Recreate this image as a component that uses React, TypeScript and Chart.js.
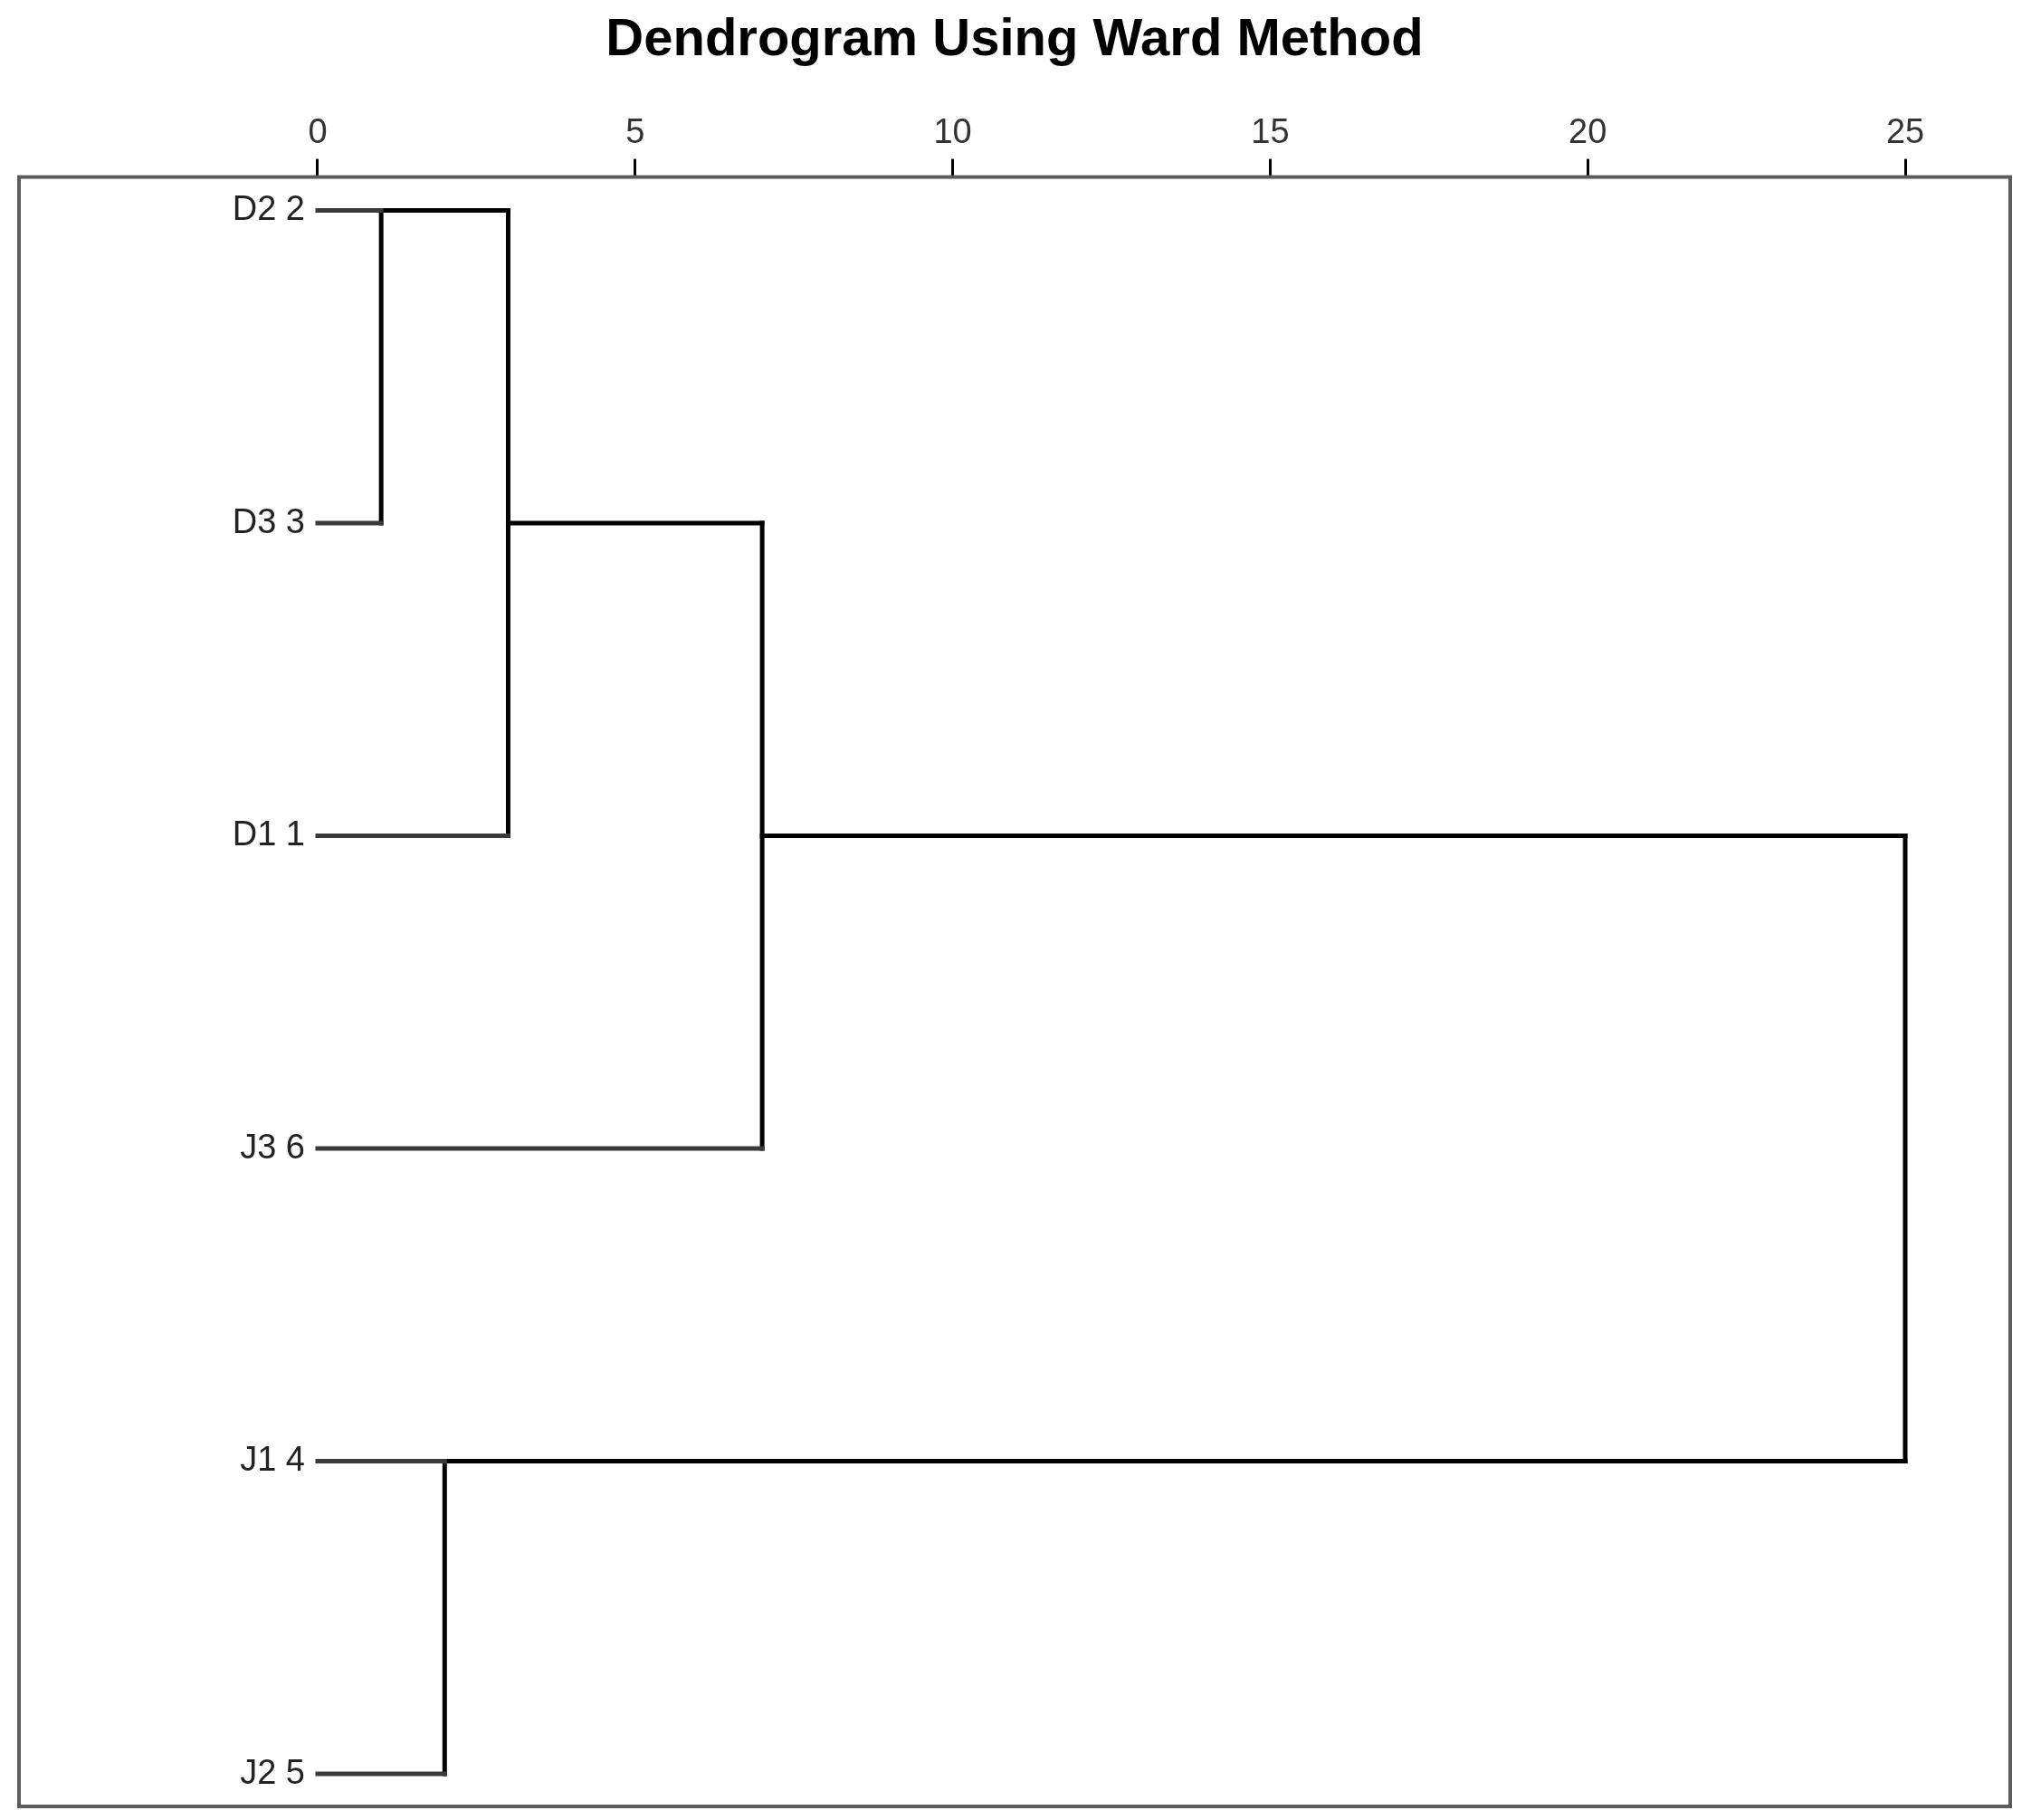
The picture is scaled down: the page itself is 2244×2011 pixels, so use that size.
import React, { useEffect, useRef } from "react";
import { Chart, registerables } from "chart.js";

Chart.register(...registerables);

// ---- data ----
const titleText = "Dendrogram Using Ward Method";
const leafLabels = ["D2 2", "D3 3", "D1 1", "J3 6", "J1 4", "J2 5"];
const xTickValues = [0, 5, 10, 15, 20, 25];
// agglomeration schedule (L# = leaf row, C# = cluster created at step #)
const mergeLeft = ["L0", "L4", "C0", "C2", "C3"];
const mergeRight = ["L1", "L5", "L2", "L3", "C1"];
const mergeHeight = [1.0, 2.0, 3.0, 7.0, 25.0];

const NARROW = "'Liberation Sans Narrow', 'Arial Narrow', 'Liberation Sans', Arial, sans-serif";
const WIDE = "'Liberation Sans', Arial, sans-serif";

type Seg = { pts: { x: number; y: number }[]; leaf: boolean };

function buildSegments(): Seg[] {
  const clusters: { row: number; h: number }[] = [];
  const node = (id: string) => {
    const k = parseInt(id.slice(1), 10);
    if (id[0] === "L") return { row: k, h: 0, leaf: true };
    return { row: clusters[k].row, h: clusters[k].h, leaf: false };
  };
  const segs: Seg[] = [];
  for (let i = 0; i < mergeHeight.length; i++) {
    const a = node(mergeLeft[i]);
    const b = node(mergeRight[i]);
    const h = mergeHeight[i];
    segs.push({ pts: [{ x: a.h, y: a.row }, { x: h, y: a.row }], leaf: a.leaf });
    segs.push({ pts: [{ x: b.h, y: b.row }, { x: h, y: b.row }], leaf: b.leaf });
    segs.push({ pts: [{ x: h, y: a.row }, { x: h, y: b.row }], leaf: false });
    clusters.push({ row: Math.floor((a.row + b.row) / 2), h });
  }
  return segs;
}

const framePlugin = {
  id: "frameAndLabels",
  afterDatasetsDraw(chart: any) {
    const { ctx, chartArea, scales } = chart;
    ctx.save();
    ctx.strokeStyle = "#5c5c5c";
    ctx.lineWidth = 4;
    ctx.strokeRect(chartArea.left, chartArea.top, chartArea.right - chartArea.left, chartArea.bottom - chartArea.top);
    ctx.fillStyle = "#222";
    ctx.font = `38px ${NARROW}`;
    ctx.textAlign = "right";
    ctx.textBaseline = "middle";
    const x0 = scales.x.getPixelForValue(0);
    leafLabels.forEach((lab, i) => {
      ctx.fillText(lab, x0 - 14, scales.y.getPixelForValue(i));
    });
    ctx.restore();
  },
};

export default function App() {
  const ref = useRef<HTMLCanvasElement | null>(null);

  useEffect(() => {
    if (!ref.current) return;
    const segs = buildSegments();
    const chart = new Chart(ref.current, {
      type: "scatter",
      data: {
        datasets: segs.map((s) => ({
          data: s.pts,
          showLine: true,
          borderColor: s.leaf ? "#3a3a3a" : "#000000",
          borderWidth: 5,
          borderCapStyle: "square" as const,
          pointRadius: 0,
          pointHoverRadius: 0,
          fill: false,
        })),
      },
      options: {
        animation: false,
        responsive: false,
        devicePixelRatio: 1,
        layout: { padding: { top: 0, left: 21, right: 23, bottom: 15 } },
        plugins: {
          legend: { display: false },
          tooltip: { enabled: false },
          title: {
            display: true,
            text: titleText,
            color: "#000",
            font: { size: 58, weight: "bold", family: WIDE },
            padding: { top: 10, bottom: 0 },
          },
        },
        scales: {
          x: {
            type: "linear",
            position: "top",
            min: -4.703,
            max: 26.653,
            afterBuildTicks: (s: any) => {
              s.ticks = xTickValues.map((v) => ({ value: v }));
            },
            afterFit: (s: any) => {
              s.height = 116;
            },
            ticks: {
              font: { size: 38, family: NARROW },
              color: "#333",
              padding: 5,
              autoSkip: false,
              maxRotation: 0,
              callback: (v: any) => String(v),
            },
            grid: {
              drawOnChartArea: false,
              drawTicks: true,
              tickLength: 20,
              color: "#000",
              lineWidth: 3,
            },
            border: { display: false },
          },
          y: {
            type: "linear",
            display: false,
            reverse: true,
            min: -0.107,
            max: 5.104,
          },
        },
      },
      plugins: [framePlugin],
    });
    return () => chart.destroy();
  }, []);

  return (
    <div style={{ position: "fixed", left: 0, top: 0, width: 2244, height: 2011, background: "#fff" }}>
      <canvas ref={ref} width={2244} height={2011} style={{ display: "block" }} />
    </div>
  );
}
